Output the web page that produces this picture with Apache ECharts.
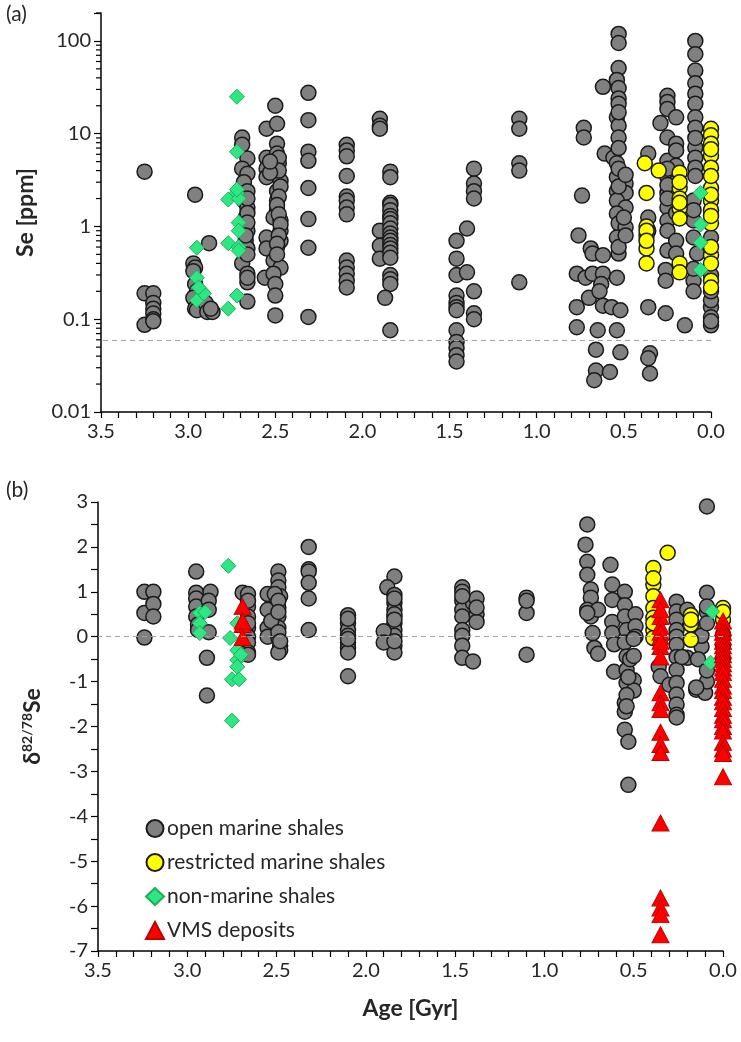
<!DOCTYPE html>
<html>
<head>
<meta charset="utf-8">
<script src="https://cdn.jsdelivr.net/npm/echarts@6/dist/echarts.min.js"></script>
<style>
  html, body { margin: 0; padding: 0; background: #fff; }
  #chart { width: 741px; height: 1042px; }
</style>
</head>
<body>
<div id="chart"></div>
<script>
// ---- data: [age in Gyr, value] ----
const ageTickLabels = ['3.5', '3.0', '2.5', '2.0', '1.5', '1.0', '0.5', '0.0'];
const seDecadeLabels = ['0.01', '0.1', '1', '10', '100'];
const seMinorTicks = [0.02, 0.03, 0.04, 0.05, 0.06, 0.07, 0.08, 0.09,
  0.2, 0.3, 0.4, 0.5, 0.6, 0.7, 0.8, 0.9, 2, 3, 4, 5, 6, 7, 8, 9,
  20, 30, 40, 50, 60, 70, 80, 90, 200];
const seDetectionLimit = 0.06;

// (a) Se concentration [ppm]
const openMarineSe = [
  [3.25, 3.9], [3.25, 0.19], [3.25, 0.087],
  [3.2, 0.19], [3.2, 0.15], [3.2, 0.13], [3.2, 0.115], [3.2, 0.1], [3.2, 0.095],
  [2.96, 2.2], [2.97, 0.4], [2.96, 0.36], [2.97, 0.33], [2.96, 0.24], [2.95, 0.2], [2.97, 0.17], [2.96, 0.13], [2.95, 0.125],
  [2.88, 0.66], [2.9, 0.15], [2.89, 0.12], [2.86, 0.12], [2.87, 0.13],
  [2.69, 9.1], [2.69, 7.6], [2.66, 5.4], [2.69, 4.2], [2.66, 3.7], [2.68, 3.0], [2.66, 2.4], [2.68, 1.9], [2.66, 1.6],
  [2.67, 1.25], [2.66, 0.9], [2.67, 0.7], [2.66, 0.58], [2.69, 0.4], [2.66, 0.31], [2.66, 0.25], [2.66, 0.155],
  [2.66, 2.0], [2.66, 1.4], [2.66, 1.1], [2.67, 0.8], [2.66, 0.5], [2.66, 0.28],
  [2.55, 11.3], [2.49, 12.8], [2.5, 20], [2.55, 5.5], [2.55, 4.2], [2.55, 3.4], [2.49, 7.8], [2.49, 6.1], [2.48, 4.8],
  [2.47, 3.1], [2.49, 2.4], [2.49, 1.9], [2.49, 1.5], [2.51, 1.25], [2.47, 1.16], [2.47, 0.9], [2.55, 0.76], [2.47, 0.7],
  [2.49, 0.6], [2.55, 0.58], [2.51, 0.43], [2.47, 0.36], [2.56, 0.28], [2.51, 0.31], [2.5, 0.24], [2.5, 0.18], [2.5, 0.11],
  [2.48, 5.5], [2.48, 4.0], [2.47, 2.7], [2.48, 2.1], [2.49, 1.7], [2.48, 1.35], [2.47, 1.05], [2.48, 0.8], [2.49, 0.65],
  [2.49, 0.5], [2.53, 3.8], [2.53, 5.0],
  [2.31, 27.6], [2.31, 14], [2.31, 6.4], [2.31, 5.1], [2.31, 2.6], [2.31, 1.2], [2.31, 0.59], [2.31, 0.106],
  [2.09, 7.6], [2.09, 6.6], [2.09, 5.7], [2.09, 3.5], [2.09, 2.1], [2.09, 1.9], [2.09, 1.6], [2.09, 1.35],
  [2.09, 0.43], [2.09, 0.36], [2.09, 0.31], [2.09, 0.26], [2.09, 0.22],
  [1.9, 14.5], [1.9, 12.2], [1.9, 11.3], [1.9, 0.9], [1.9, 0.62], [1.9, 0.45],
  [1.84, 3.9], [1.84, 3.4], [1.84, 1.8], [1.84, 1.7], [1.84, 1.5], [1.84, 1.3], [1.84, 1.2], [1.84, 1.08], [1.84, 0.95],
  [1.84, 0.84], [1.84, 0.76], [1.84, 0.7], [1.84, 0.63], [1.84, 0.58], [1.84, 0.52], [1.84, 0.46], [1.84, 0.3],
  [1.84, 0.27], [1.84, 0.24], [1.87, 0.17], [1.84, 0.076],
  [1.46, 0.7], [1.46, 0.45], [1.46, 0.3], [1.46, 0.18], [1.46, 0.15], [1.46, 0.135], [1.46, 0.125], [1.46, 0.076],
  [1.46, 0.057], [1.46, 0.049], [1.46, 0.041], [1.46, 0.035], [1.4, 0.95], [1.4, 0.32],
  [1.36, 4.2], [1.36, 2.9], [1.36, 2.4], [1.36, 2.0], [1.36, 0.2], [1.36, 0.116], [1.36, 0.1],
  [1.1, 14.5], [1.1, 11.3], [1.1, 4.8], [1.1, 4.0], [1.1, 0.25],
  [0.73, 11.6], [0.73, 9.1], [0.74, 2.15], [0.76, 0.8], [0.69, 0.58], [0.68, 0.51], [0.62, 0.49], [0.77, 0.31],
  [0.72, 0.28], [0.68, 0.31], [0.62, 0.31], [0.7, 0.17], [0.63, 0.24], [0.64, 0.2], [0.77, 0.135], [0.62, 0.14],
  [0.57, 0.135], [0.52, 0.125], [0.77, 0.082], [0.65, 0.076], [0.54, 0.076], [0.66, 0.047], [0.52, 0.044],
  [0.66, 0.028], [0.67, 0.022], [0.58, 0.027], [0.54, 0.28],
  [0.53, 119], [0.53, 95], [0.53, 51], [0.62, 32], [0.54, 38], [0.53, 31], [0.53, 24], [0.53, 21], [0.54, 15],
  [0.53, 12.2], [0.53, 9.1], [0.61, 6.1], [0.56, 5.5], [0.54, 4.8], [0.54, 3.4], [0.49, 2.9], [0.54, 2.4], [0.49, 2.3],
  [0.54, 1.9], [0.49, 1.6], [0.54, 1.38], [0.53, 1.08], [0.49, 0.98], [0.54, 0.76], [0.53, 0.51], [0.53, 7.0],
  [0.53, 4.2], [0.53, 2.7], [0.5, 1.25], [0.53, 0.6], [0.49, 3.6], [0.49, 0.8], [0.53, 17],
  [0.36, 6.1], [0.36, 1.25], [0.36, 0.135], [0.35, 0.043], [0.35, 0.026], [0.36, 0.038], [0.36, 0.9],
  [0.25, 25.6], [0.25, 22], [0.25, 18.5], [0.29, 13], [0.2, 15], [0.25, 9.1], [0.2, 7.8], [0.25, 5.1], [0.2, 6.6],
  [0.25, 3.4], [0.25, 2.3], [0.25, 1.6], [0.25, 1.16], [0.25, 0.9], [0.25, 0.55], [0.2, 0.7], [0.26, 0.34],
  [0.26, 0.26], [0.26, 0.116], [0.2, 0.51], [0.2, 4.5], [0.2, 3.0], [0.25, 4.2], [0.25, 2.8], [0.25, 2.0], [0.2, 1.4],
  [0.15, 0.086],
  [0.09, 100], [0.09, 72], [0.09, 48], [0.09, 35], [0.09, 27], [0.09, 21], [0.09, 15], [0.09, 11.6], [0.09, 7.1],
  [0.09, 5.5], [0.09, 4.3], [0.1, 1.9], [0.1, 1.16], [0.1, 0.76], [0.08, 0.51], [0.1, 0.26], [0.1, 0.2], [0.09, 9],
  [0.09, 3.5], [0.1, 1.5], [0.1, 0.35],
  [0, 0.76], [0, 0.135], [0, 0.105], [0, 0.086], [0, 0.16], [0, 0.3], [0, 0.2], [0, 0.095]
];
const restrictedSe = [
  [0.38, 4.8], [0.37, 2.3], [0.37, 1.0], [0.37, 0.8], [0.37, 0.58], [0.37, 0.4], [0.3, 4.0], [0.37, 0.9], [0.37, 0.7],
  [0.18, 3.8], [0.18, 2.6], [0.18, 2.0], [0.18, 1.56], [0.18, 1.22], [0.18, 0.4], [0.18, 0.32], [0.18, 3.0], [0.18, 1.8],
  [0, 11.3], [0, 9.6], [0, 7.8], [0, 5.8], [0, 4.3], [0, 2.6], [0, 1.9], [0, 1.5], [0, 1.08], [0, 0.49], [0, 0.4],
  [0, 0.26], [0, 0.22], [0, 3.5], [0, 6.8], [0, 2.2], [0, 1.3], [0, 0.6]
];
const nonMarineSe = [
  [2.95, 0.59], [2.95, 0.28], [2.95, 0.16], [2.92, 0.2], [2.91, 0.19], [2.94, 0.22],
  [2.72, 25], [2.72, 6.4], [2.77, 1.95], [2.72, 2.3], [2.71, 2.0], [2.71, 1.1], [2.71, 0.9], [2.77, 0.66],
  [2.71, 0.6], [2.71, 0.55], [2.72, 0.18], [2.77, 0.13], [2.72, 2.5],
  [0.06, 2.3], [0.06, 1.05], [0.06, 0.67], [0.06, 0.34]
];

// (b) delta 82/78 Se
const openMarineDelta = [
  [3.24, 1.0], [3.24, 0.53], [3.24, -0.02], [3.19, 1.0], [3.19, 0.73], [3.19, 0.45],
  [2.95, 1.45], [2.95, 0.98], [2.95, 0.85], [2.95, 0.67], [2.95, 0.45], [2.94, 0.27], [2.94, 0.15],
  [2.89, -0.47], [2.89, -1.31], [2.87, 1.0], [2.88, 0.1], [2.88, 0.8], [2.88, 0.6],
  [2.69, 0.98], [2.66, 0.95], [2.66, 0.67], [2.66, 0.45], [2.66, 0.2], [2.66, 0.0], [2.66, -0.13], [2.66, -0.35],
  [2.66, -0.4], [2.66, 0.8], [2.66, 0.3],
  [2.55, 0.95], [2.49, 1.45], [2.49, 1.25], [2.49, 1.1], [2.48, 0.9], [2.49, 0.65], [2.55, 0.6], [2.49, 0.45],
  [2.55, 0.2], [2.49, 0.2], [2.55, 0.0], [2.49, -0.02], [2.48, -0.2], [2.48, -0.3], [2.49, -0.35], [2.51, 0.95],
  [2.53, 0.35], [2.49, 0.8], [2.49, 0.55], [2.49, 0.1], [2.48, -0.1],
  [2.32, 2.0], [2.32, 1.5], [2.32, 1.45], [2.32, 1.2], [2.32, 0.85], [2.32, 0.15],
  [2.1, 0.48], [2.1, 0.3], [2.1, 0.15], [2.1, 0.02], [2.1, -0.13], [2.1, -0.25], [2.1, -0.35], [2.1, -0.88],
  [2.1, 0.4], [2.1, -0.05],
  [1.84, 1.34], [1.88, 1.1], [1.84, 0.93], [1.84, 0.75], [1.84, 0.6], [1.84, 0.45], [1.84, 0.3], [1.84, 0.15],
  [1.84, 0.02], [1.84, -0.2], [1.84, -0.35], [1.9, 0.12], [1.9, -0.13], [1.84, 0.5], [1.84, 0.38], [1.84, 0.85],
  [1.84, -0.1],
  [1.46, 1.1], [1.46, 1.0], [1.46, 0.8], [1.46, 0.6], [1.46, 0.45], [1.46, 0.15], [1.46, 0.02], [1.46, -0.2],
  [1.46, -0.47], [1.4, -0.55], [1.4, 0.75], [1.38, 0.85], [1.38, 0.5], [1.38, 0.33], [1.46, 0.9], [1.38, 0.65],
  [1.1, 0.87], [1.1, 0.53], [1.1, -0.4], [1.1, 0.8],
  [0.76, 2.5], [0.77, 2.05], [0.76, 1.67], [0.76, 1.38], [0.74, 1.05], [0.74, 0.87], [0.76, 0.6], [0.74, 0.45],
  [0.7, 0.6], [0.72, -0.25], [0.7, -0.38], [0.73, 0.08], [0.76, 0.53],
  [0.63, 1.6], [0.62, 1.16], [0.62, 0.82], [0.62, 0.33], [0.62, 0.08], [0.61, -0.17], [0.61, -0.78],
  [0.55, 1.0], [0.55, 0.7], [0.55, 0.45], [0.54, 0.15], [0.55, -0.13], [0.54, -0.44], [0.54, -0.74], [0.54, -1.03],
  [0.55, -1.47], [0.55, -1.67], [0.55, -2.07], [0.53, -2.34], [0.53, -3.3], [0.49, 0.5], [0.49, 0.23], [0.49, 0.0],
  [0.52, -0.5], [0.5, -0.97], [0.5, -1.2], [0.5, -0.43], [0.5, -0.05], [0.54, -1.3], [0.54, -1.55], [0.53, -0.9],
  [0.36, -0.67], [0.35, -0.88], [0.3, -1.07],
  [0.26, 0.78], [0.26, 0.56], [0.26, 0.38], [0.26, 0.15], [0.26, 0.0], [0.26, -0.18], [0.26, -0.45], [0.26, -0.74],
  [0.26, -1.03], [0.26, -1.29], [0.26, -1.51], [0.26, -1.74], [0.26, -1.8], [0.2, 0.6], [0.2, -0.47], [0.23, -0.45],
  [0.15, -1.18], [0.1, -1.25], [0.09, 0.98], [0.09, -1.0], [0.12, -0.22], [0.14, 0.15], [0.09, 0.55], [0.09, 2.9],
  [0.09, 0.67], [0.12, 0.02], [0.14, -0.5], [0.15, -1.13], [0.09, -0.75], [0.09, 0.3],
  [0, -0.2], [0, 0.05], [0, -0.5]
];
const restrictedDelta = [
  [0.39, 1.53], [0.39, 1.16], [0.39, 0.9], [0.39, 0.64], [0.39, 0.42], [0.39, 0.15], [0.39, -0.03], [0.31, 1.87],
  [0.39, 1.3], [0.39, 0.3],
  [0.18, 0.48], [0.18, 0.27], [0.18, -0.07], [0.18, 0.38],
  [0, 0.64], [0, 0.38], [0, 0.55]
];
const nonMarineDelta = [
  [2.93, 0.53], [2.93, 0.3], [2.93, 0.08], [2.9, 0.55],
  [2.77, 1.58], [2.76, -0.03], [2.75, -0.95], [2.75, -1.87], [2.72, 0.3], [2.72, -0.3], [2.72, -0.52], [2.72, -0.67],
  [2.71, -0.95], [2.7, -0.4],
  [0.06, 0.56], [0.07, -0.58]
];
const vmsDelta = [
  [2.69, 0.67], [2.69, 0.27], [2.69, -0.02], [2.69, 0.35],
  [0.35, 0.82], [0.35, 0.45], [0.35, 0.23], [0.35, 0.0], [0.35, -0.22], [0.35, -0.45], [0.35, -1.25], [0.35, -1.47],
  [0.35, -1.62], [0.35, -2.13], [0.35, -2.4], [0.35, -2.58], [0.35, -4.15], [0.35, -5.82], [0.35, -6.04],
  [0.35, -6.19], [0.35, -6.64], [0.35, 0.6], [0.35, 0.1], [0.35, -0.1],
  [0, 0.35], [0, 0.2], [0, 0.1], [0, 0.0], [0, -0.1], [0, -0.2], [0, -0.3], [0, -0.4], [0, -0.5], [0, -0.6],
  [0, -0.7], [0, -0.8], [0, -0.95], [0, -1.1], [0, -1.2], [0, -1.35], [0, -1.45], [0, -1.6], [0, -1.75], [0, -1.85],
  [0, -2.0], [0, -2.1], [0, -2.35], [0, -2.5], [0, -2.6], [0, -3.12]
];

const seriesNames = ['open marine shales', 'restricted marine shales', 'non-marine shales', 'VMS deposits'];

const FONT = 'Lato, "Open Sans", sans-serif';
const TXT = '#262626';

const markStyle = {
  open: { symbol: 'circle', symbolSize: 15, itemStyle: { color: '#808080', borderColor: '#1a1a1a', borderWidth: 1.5, opacity: 1 } },
  restricted: { symbol: 'circle', symbolSize: 15, itemStyle: { color: '#ffff00', borderColor: '#1a1a1a', borderWidth: 1.5, opacity: 1 } },
  nonMarine: { symbol: 'diamond', symbolSize: 15, itemStyle: { color: '#2ee682', borderColor: '#1fae5c', borderWidth: 1, opacity: 1 } },
  vms: { symbol: 'triangle', symbolSize: [17, 16], itemStyle: { color: '#ff0000', borderColor: '#c00000', borderWidth: 1, opacity: 1 } }
};

function scatter(name, style, data, idx, extra) {
  return Object.assign({
    name: name,
    type: 'scatter',
    xAxisIndex: idx,
    yAxisIndex: idx,
    data: data,
    symbol: style.symbol,
    symbolSize: style.symbolSize,
    itemStyle: style.itemStyle,
    emphasis: { disabled: true }
  }, extra || {});
}

function dashed(y) {
  return {
    silent: true,
    symbol: 'none',
    label: { show: false },
    lineStyle: { type: [5, 4], color: '#a0a0a0', width: 1.2 },
    data: [{ yAxis: y }]
  };
}

function ageAxis(idx, withName) {
  return {
    type: 'value',
    gridIndex: idx,
    inverse: true,
    min: 0,
    max: 3.5,
    interval: 0.5,
    name: withName ? 'Age [Gyr]' : '',
    nameLocation: 'middle',
    nameGap: 46,
    nameTextStyle: { fontFamily: FONT, fontSize: 23, fontWeight: 'bold', color: TXT },
    axisLine: { onZero: false, lineStyle: { color: '#000', width: 1.5 } },
    axisTick: { length: 6, lineStyle: { color: '#000', width: 1.2 } },
    minorTick: { show: true, splitNumber: 5, length: 6, lineStyle: { color: '#000', width: 1.2 } },
    splitLine: { show: false },
    axisLabel: {
      margin: 10, fontFamily: FONT, fontSize: 20, color: TXT,
      formatter: v => ageTickLabels[Math.round((3.5 - v) / 0.5)]
    }
  };
}

const option = {
  animation: false,
  backgroundColor: '#fff',
  grid: [
    { left: 101, right: 30, top: 13, height: 399 },
    { left: 98, right: 18, top: 502, height: 449 }
  ],
  xAxis: [ageAxis(0, false), ageAxis(1, true)],
  yAxis: [
    {
      type: 'log',
      gridIndex: 0,
      position: 'left',
      logBase: 10,
      min: 0.01,
      max: 200,
      name: 'Se [ppm]',
      nameLocation: 'middle',
      nameGap: 64,
      nameTextStyle: { fontFamily: FONT, fontSize: 23, fontWeight: 'bold', color: TXT },
      axisLine: { show: true, onZero: false, lineStyle: { color: '#000', width: 1.5 } },
      axisTick: { length: 7, lineStyle: { color: '#000', width: 1.2 } },
      splitLine: { show: false },
      axisLabel: {
        margin: 10, fontFamily: FONT, fontSize: 20, color: TXT,
        formatter: v => {
          const e = Math.round(Math.log10(v));
          return Math.abs(Math.log10(v) - e) < 1e-6 ? seDecadeLabels[e + 2] : '';
        }
      }
    },
    {
      type: 'value',
      gridIndex: 1,
      position: 'left',
      min: -7,
      max: 3,
      interval: 1,
      name: '{d|δ}{s|82/78}{d|Se}',
      nameLocation: 'middle',
      nameGap: 52,
      nameTextStyle: {
        color: TXT,
        rich: {
          d: { fontFamily: FONT, fontSize: 23, fontWeight: 'bold', color: TXT, lineHeight: 26 },
          s: { fontFamily: FONT, fontSize: 14, fontWeight: 'bold', color: TXT, verticalAlign: 'top', lineHeight: 26 }
        }
      },
      axisLine: { show: true, onZero: false, lineStyle: { color: '#000', width: 1.5 } },
      axisTick: { length: 7, lineStyle: { color: '#000', width: 1.2 } },
      minorTick: { show: true, splitNumber: 2, length: 7, lineStyle: { color: '#000', width: 1.2 } },
      splitLine: { show: false },
      axisLabel: { margin: 10, fontFamily: FONT, fontSize: 20, color: TXT }
    }
  ],
  legend: {
    data: seriesNames,
    orient: 'vertical',
    left: 140,
    top: 813,
    itemWidth: 18,
    itemHeight: 17,
    itemGap: 13,
    selectedMode: false,
    textStyle: { fontFamily: FONT, fontSize: 21, color: TXT, padding: [0, 0, 0, -2] }
  },
  graphic: [
    { type: 'text', left: 6, top: 4, style: { text: '(a)', fontFamily: FONT, fontSize: 21, fill: TXT } },
    { type: 'text', left: 6, top: 480, style: { text: '(b)', fontFamily: FONT, fontSize: 21, fill: TXT } }
  ],
  series: [
    scatter(seriesNames[0], markStyle.open, openMarineSe, 0, { markLine: dashed(seDetectionLimit) }),
    scatter(seriesNames[1], markStyle.restricted, restrictedSe, 0),
    scatter(seriesNames[2], markStyle.nonMarine, nonMarineSe, 0),
    {
      type: 'custom',
      xAxisIndex: 0,
      yAxisIndex: 0,
      silent: true,
      clip: false,
      data: seMinorTicks.map(v => [3.5, v]),
      renderItem: (params, api) => {
        const p = api.coord([api.value(0), api.value(1)]);
        return {
          type: 'line',
          shape: { x1: p[0] - 5, y1: p[1], x2: p[0], y2: p[1] },
          style: { stroke: '#000', lineWidth: 1.2 }
        };
      }
    },
    scatter(seriesNames[0], markStyle.open, openMarineDelta, 1, { markLine: dashed(0) }),
    scatter(seriesNames[1], markStyle.restricted, restrictedDelta, 1),
    scatter(seriesNames[2], markStyle.nonMarine, nonMarineDelta, 1),
    scatter(seriesNames[3], markStyle.vms, vmsDelta, 1)
  ]
};

const chart = echarts.init(document.getElementById('chart'), null, { renderer: 'canvas' });
chart.setOption(option);
</script>
</body>
</html>
